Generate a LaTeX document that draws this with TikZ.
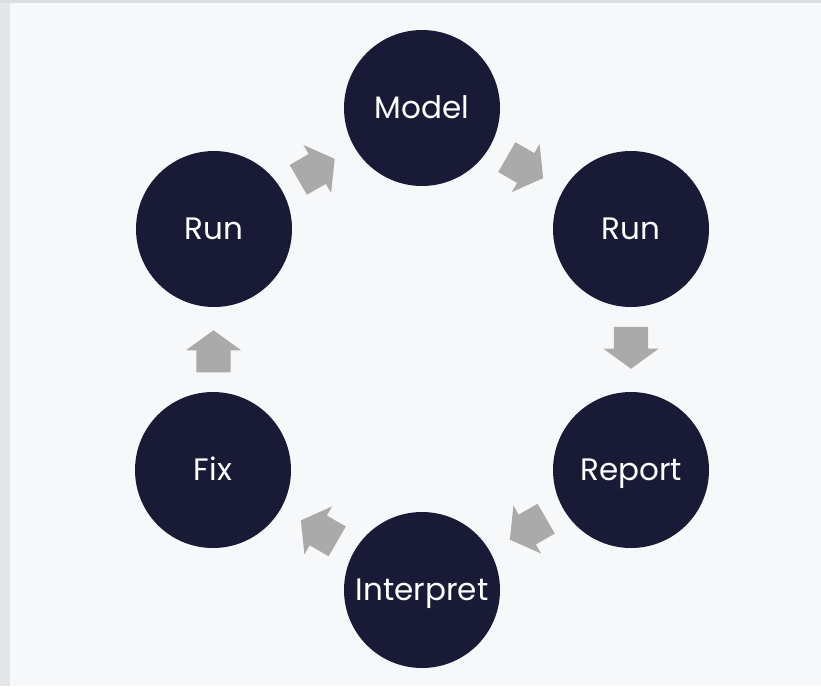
\documentclass[tikz,border=0pt]{standalone}
\usepackage{fontspec}
\setmainfont{Poppins}
\usetikzlibrary{shapes.arrows,calc}
\definecolor{navy}{RGB}{24,26,54}
\definecolor{panel}{RGB}{247,248,250}
\definecolor{strip}{RGB}{228,230,232}
\definecolor{topstrip}{RGB}{220,221,223}
\definecolor{arrowgray}{RGB}{170,170,170}
\tikzset{
  stage/.style={circle,fill=navy,minimum size=156pt,inner sep=0pt,text=white,
    font=\fontsize{31}{36}\selectfont,text height=21.5pt,text depth=0pt},
  flow/.style={single arrow,fill=arrowgray,draw=none,minimum height=42pt,
    inner xsep=0pt,inner ysep=17pt,
    single arrow head extend=10.5pt,single arrow tip angle=108,single arrow head indent=0pt}
}
\begin{document}
\begin{tikzpicture}[x=1pt,y=-1pt]
\useasboundingbox (0,0) rectangle (821,686);
\fill[strip] (0,0) rectangle (821,686);
\fill[topstrip] (0,0) rectangle (821,3);
\fill[panel] (10,3) rectangle (821,686);
\node[stage] (model) at (422,108) {Model};
\node[stage] (runr) at (631,229) {Run};
\node[stage] (report) at (631,470) {Report};
\node[stage] (interp) at (422,590) {Interpret};
\node[stage] (fix) at (213,470) {Fix};
\node[stage] (runl) at (214,229) {Run};
\node[flow,rotate=-30,xshift=-8pt] (a1) at ($(model)!0.5!(runr)$) {};
\node[flow,rotate=-90,xshift=-8pt] (a2) at ($(runr)!0.5!(report)$) {};
\node[flow,rotate=210,xshift=-8pt] (a3) at ($(report)!0.5!(interp)$) {};
\node[flow,rotate=150,xshift=-8pt] (a4) at ($(interp)!0.5!(fix)$) {};
\node[flow,rotate=90,xshift=-8pt] (a5) at ($(fix)!0.5!(runl)$) {};
\node[flow,rotate=30,xshift=-8pt] (a6) at ($(runl)!0.5!(model)$) {};
\end{tikzpicture}
\end{document}
